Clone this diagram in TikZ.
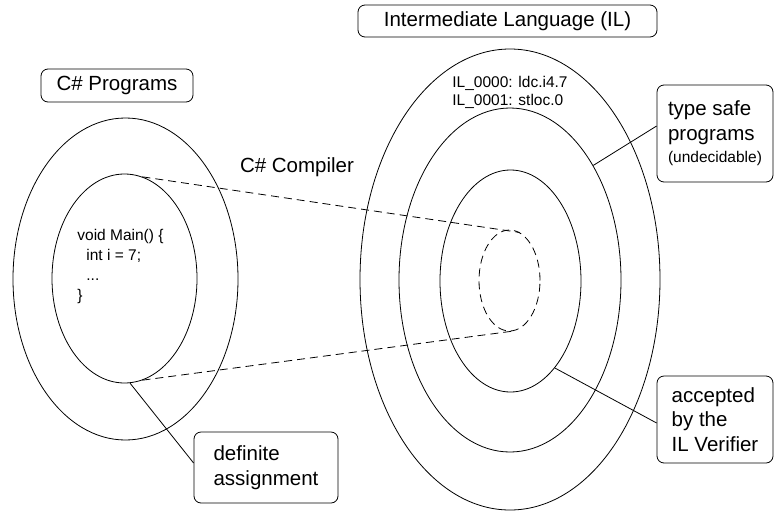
\documentclass[tikz,border=0pt]{standalone}
\usepackage{fontspec}
\setmainfont{Liberation Sans}
\usetikzlibrary{shapes.geometric}
\begin{document}
\begin{tikzpicture}[x=1pt,y=-1pt, line width=0.8pt,
  ell/.style={draw, ellipse, inner sep=0pt},
  lbox/.style={draw, rounded corners=7pt, inner sep=0pt, font=\fontsize{20.5}{24}\selectfont},
  tbox/.style={draw, rounded corners=7pt, inner sep=0pt, align=left,
               font=\fontsize{20.5}{24.5}\selectfont},
  dashln/.style={dash pattern=on 8pt off 5pt},
  small/.style={font=\fontsize{15.5}{20}\selectfont, inner sep=0pt, align=left}]
\useasboundingbox (0,0) rectangle (774,512);
% left ellipses
\node[ell, minimum width=225pt, minimum height=322pt] (lo) at (125.5,279) {};
\node[ell, minimum width=145pt, minimum height=209pt] (li) at (124.5,278.5) {};
% right ellipses
\node[ell, minimum width=300pt, minimum height=461pt] (r1) at (510,279.5) {};
\node[ell, minimum width=222pt, minimum height=344pt] (r2) at (510,280) {};
\node[ell, minimum width=141pt, minimum height=222pt] (r3) at (510.5,281) {};
\node[ell, dashln, minimum width=61pt, minimum height=101pt] (r4) at (509.5,280.5) {};
% titles
\node[lbox, minimum width=152pt, minimum height=33pt] (cp) at (117,85.5) {C\# Programs};
\node[lbox, minimum width=299pt, minimum height=32pt] (il) at (507.5,21) {Intermediate Language (IL)};
\node[font=\fontsize{20.5}{24}\selectfont, inner sep=0pt] (cc) at (297,167) {C\# Compiler};
% code
\node[small, anchor=north west] (code) at (77,228.5) {void Main() \{\\\hspace*{9pt}int i = 7;\\\hspace*{9pt}...\\\}};
\node[small, font=\fontsize{15.5}{18}\selectfont, anchor=north west] (ilcode) at (452,75.5) {IL\_0000: ldc.i4.7\\IL\_0001: stloc.0};
% dashed projection
\draw[dashln] (li.80) -- (r4.78);
\draw[dashln] (li.-80) -- (r4.-87);
% callout boxes
\node[tbox, minimum width=116pt, minimum height=97pt] (ts) at (715,133.5)
  {type safe\\programs\\[-2pt]{\fontsize{15.5}{18}\selectfont(undecidable)}};
\node[tbox, minimum width=116pt, minimum height=87pt] (ac) at (715,419.5)
  {accepted\\by the\\IL Verifier};
\node[tbox, minimum width=144pt, minimum height=71pt] (da) at (266,467.5)
  {definite\\assignment};
% connectors
\draw ([yshift=7.5pt]ts.west) -- (r2.54);
\draw ([yshift=-3.5pt]ac.west) -- (r3.-63);
\draw ([yshift=4.5pt]da.west) -- (li.-87);
\end{tikzpicture}
\end{document}
